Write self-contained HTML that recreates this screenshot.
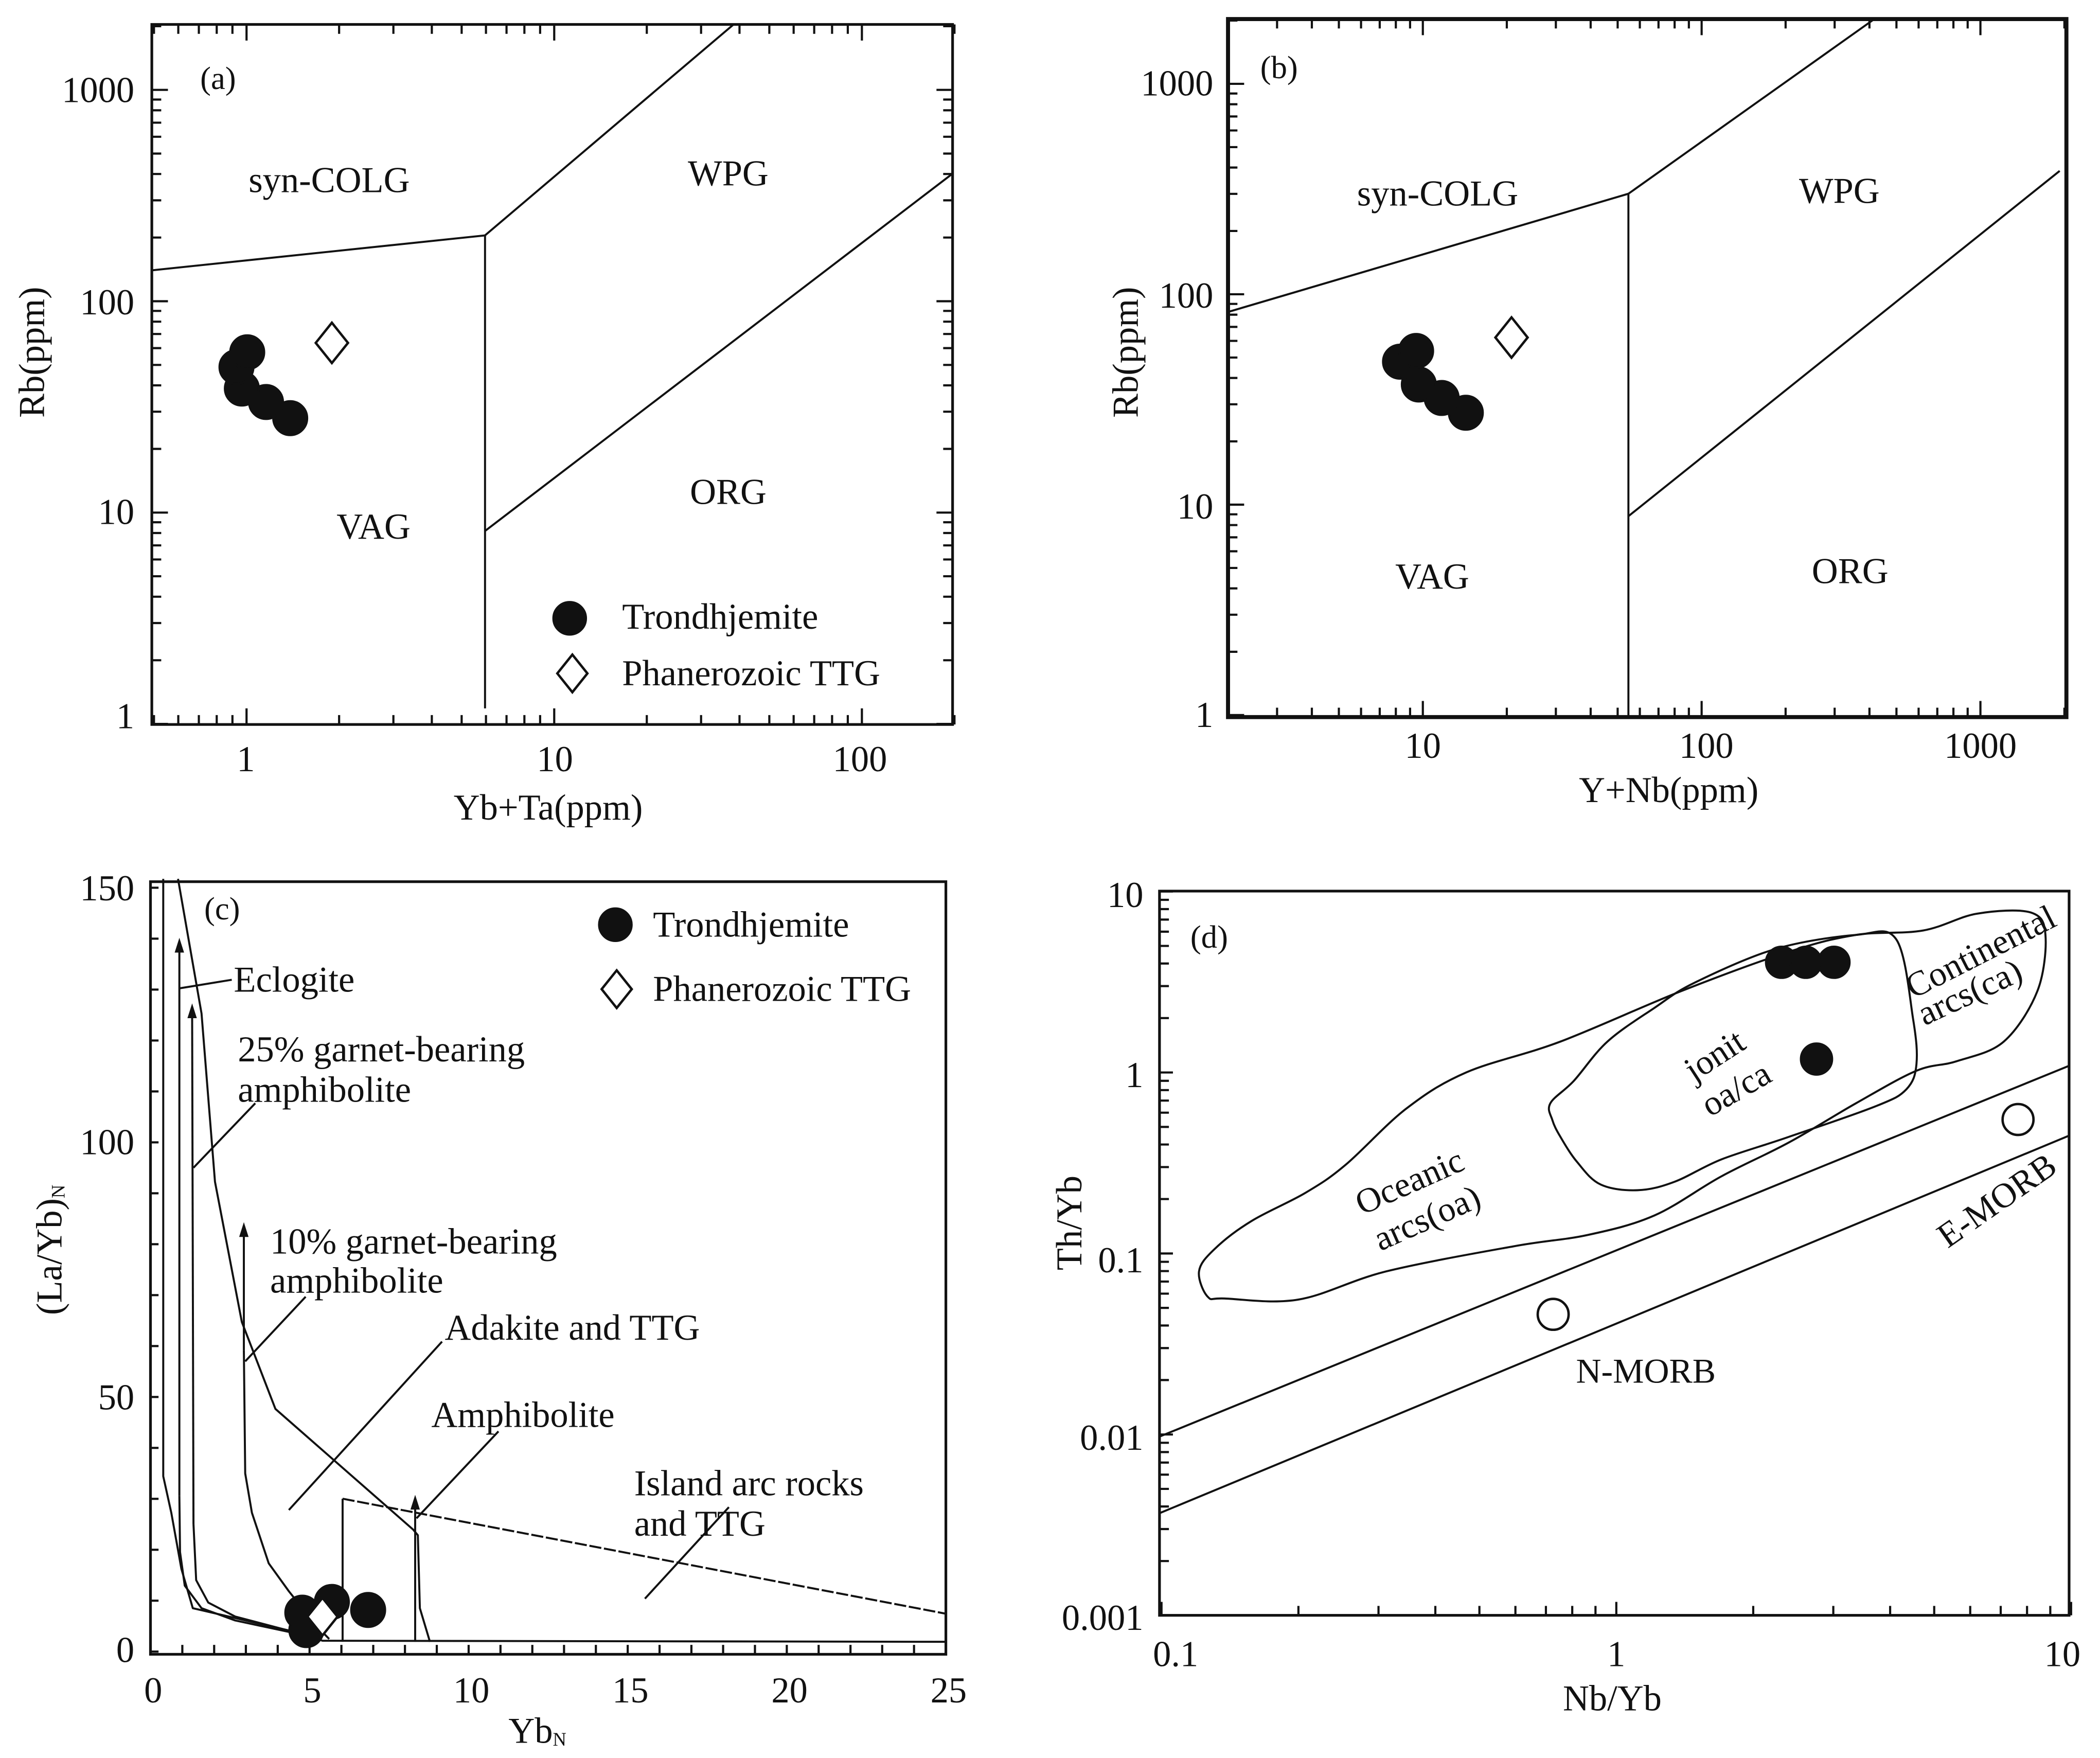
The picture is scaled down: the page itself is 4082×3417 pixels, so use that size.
<!DOCTYPE html>
<html><head><meta charset="utf-8"><style>
html,body{margin:0;padding:0;background:#fff}
svg{display:block}
text{font-family:"Liberation Serif",serif;fill:#111}
</style></head><body>
<svg id="s" xmlns="http://www.w3.org/2000/svg" width="4082" height="3417" viewBox="0 0 1563 1308"></svg>
<script>
const S=[];const L10=Math.log10;
function L(x1,y1,x2,y2,w){S.push(`<line x1="${x1.toFixed(1)}" y1="${y1.toFixed(1)}" x2="${x2.toFixed(1)}" y2="${y2.toFixed(1)}" stroke="#111" stroke-width="${w||1.5}"/>`)}
function T(x,y,s,a,fs,rot){a=a||'start';fs=fs||27;let tr=rot?` transform="rotate(${rot} ${x} ${y})"`:'';S.push(`<text x="${x}" y="${y}" font-size="${fs}" text-anchor="${a}" dominant-baseline="central"${tr}>${s}</text>`)}
function R(x1,y1,x2,y2,w){S.push(`<rect x="${x1}" y="${y1}" width="${x2-x1}" height="${y2-y1}" fill="none" stroke="#111" stroke-width="${w||2}"/>`)}
function C(x,y,r,fill){S.push(`<circle cx="${x}" cy="${y}" r="${r}" fill="${fill?'#111':'#fff'}" stroke="#111" stroke-width="1.8"/>`)}
function D(x,y,h){S.push(`<polygon points="${x},${y-h} ${x+h*0.8},${y} ${x},${y+h} ${x-h*0.8},${y}" fill="#fff" stroke="#111" stroke-width="1.8"/>`)}
function PL(pts,f,extra,close){let d=pts.map((p,i)=>{let q=f(p[0],p[1]);return (i?'L':'M')+q[0].toFixed(1)+','+q[1].toFixed(1)}).join(' ');S.push(`<path d="${d}${close?'Z':''}" fill="none" stroke="#111" stroke-width="1.5" stroke-linejoin="round" ${extra||''}/>`)}
function SM(pts,f){let p=pts.map(a=>f(a[0],a[1]));let n=p.length;let d='M'+p[0][0].toFixed(1)+','+p[0][1].toFixed(1);for(let i=0;i<n;i++){let p0=p[(i-1+n)%n],p1=p[i],p2=p[(i+1)%n],p3=p[(i+2)%n];let c1=[p1[0]+(p2[0]-p0[0])/6,p1[1]+(p2[1]-p0[1])/6],c2=[p2[0]-(p3[0]-p1[0])/6,p2[1]-(p3[1]-p1[1])/6];d+=`C${c1[0].toFixed(1)},${c1[1].toFixed(1)} ${c2[0].toFixed(1)},${c2[1].toFixed(1)} ${p2[0].toFixed(1)},${p2[1].toFixed(1)}`}S.push(`<path d="${d}Z" fill="none" stroke="#111" stroke-width="1.5"/>`)}
function ARW(x,y){S.push(`<polygon points="${x},${y} ${x-3.5},${y+11} ${x+3.5},${y+11}" fill="#111"/>`)}
function logT(a,b){let r=[];for(let e=-4;e<5;e++)for(let m=1;m<10;m++){let v=m*Math.pow(10,e);if(v>=a*0.999&&v<=b*1.001)r.push([v,m==1])}return r}

/* ---------- (a) ---------- */
{const ax=v=>183.5+229*L10(v),ay=v=>538.6-157.3*L10(v);
R(113,18,709,539,2);
for(const [v,M] of logT(0.5,200)){let x=ax(v),l=M?12:7;L(x,539,x,539-l,1.6);L(x,18,x,18+l,1.6)}
for(const [v,M] of logT(1,2000)){let y=ay(v),l=M?12:7;L(113,y,113+l,y,1.6);L(709,y,709-l,y,1.6)}
L(113,201,361,175);L(361,175,361,527);L(361,175,546,18);L(361,395,709,129);
T(149,58,'(a)','start',24);T(245,134,'syn-COLG','middle');T(542,129,'WPG','middle');T(278,392,'VAG','middle');T(542,366,'ORG','middle');
C(424,460,12,1);T(463,459,'Trondhjemite');D(426,501,14);T(463,501,'Phanerozoic TTG');
T(100,67,'1000','end');T(100,225,'100','end');T(100,381,'10','end');T(100,533,'1','end');
T(183,565,'1','middle');T(413,565,'10','middle');T(640,565,'100','middle');
T(408,601,'Yb+Ta(ppm)','middle');T(24,262,'Rb(ppm)','middle',27,-90);
for(const p of [[216,311],[198,299],[180,289],[176,273],[184,262]])C(p[0],p[1],12.5,1);
D(247,255,15);}

/* ---------- (b) ---------- */
{const bx=v=>1059+207.5*(L10(v)-1),by=v=>532-156.6*L10(v);
R(914,14,1538,533.5,3);
for(const [v,M] of logT(2,2000)){let x=bx(v),l=M?12:7;if(x<915||x>1537)continue;L(x,533.5,x,533.5-l,1.6);L(x,14,x,14+l,1.6)}
for(const [v,M] of logT(1,2000)){let y=by(v),l=M?12:7;if(y<15)continue;L(914,y,914+l,y,1.6)}
L(914,232,1212,144);L(1212,144,1212,533);L(1212,144,1395,14);L(1212,384,1533,127);
T(938,50,'(b)','start',24);T(1070,144,'syn-COLG','middle');T(1369,142,'WPG','middle');T(1066,429,'VAG','middle');T(1377,425,'ORG','middle');
T(903,62,'1000','end');T(903,220,'100','end');T(903,377,'10','end');T(903,532,'1','end');
T(1059,555,'10','middle');T(1270,555,'100','middle');T(1474,555,'1000','middle');
T(1242,588,'Y+Nb(ppm)','middle');T(838,262,'Rb(ppm)','middle',27,-90);
for(const p of [[1091,307],[1073,296],[1056,286],[1042,269],[1054,261]])C(p[0],p[1],12.5,1);
D(1125,251,15);}

/* ---------- (c) ---------- */
{const f=(x,y)=>[x*0.5,653.9+y*0.4175];const cx=v=>112+23.68*v,cy=v=>1229-3.79*v;
R(112,656,704,1231,2);
for(let v=0;v<=150;v+=10){let y=cy(v);L(112,y,118,y,1.6)}
for(let v=0;v<=25;v++){let x=cx(v);L(x,1231,x,1224,1.6)}
PL([[243,0],[243,1065],[255,1130],[270,1230],[287,1300],[430,1340],[480,1358],[1408,1360]],f);
PL([[267,1100],[267,120]],f);PL([[267,1100],[268,1200],[275,1260],[300,1300],[350,1322],[440,1345]],f);
PL([[288,1150],[286,240]],f);PL([[288,1150],[292,1250],[310,1290],[350,1315],[445,1345]],f);
PL([[363,840],[363,630]],f);PL([[363,840],[365,1060],[375,1130],[400,1220],[430,1270],[470,1330],[490,1355]],f);
PL([[265,0],[300,240],[320,540],[360,790],[410,945],[615,1160],[622,1170],[625,1300],[640,1360]],f);
PL([[618,1360],[618,1115]],f);
PL([[510,1360],[510,1105]],f);PL([[510,1105],[1408,1310]],f,'stroke-dasharray="9,2"');
let a;a=f(267,105);ARW(a[0],a[1]);a=f(286,222);ARW(a[0],a[1]);a=f(363,612);ARW(a[0],a[1]);a=f(618,1098);ARW(a[0],a[1]);
PL([[268,195],[345,180]],f);PL([[288,515],[380,400]],f);PL([[365,860],[455,745]],f);PL([[430,1125],[658,825]],f);PL([[620,1140],[742,985]],f);PL([[960,1283],[1085,1120]],f);
T(152,676,'(c)','start',24);
T(174,729,'Eclogite');T(177,781,'25% garnet-bearing');T(177,811,'amphibolite');
T(201,924,'10% garnet-bearing');T(201,953,'amphibolite');T(331,988,'Adakite and TTG');T(321,1053,'Amphibolite');
T(472,1104,'Island arc rocks');T(472,1134,'and TTG');
C(458,688,12,1);T(486,688,'Trondhjemite');D(459,736,14);T(486,736,'Phanerozoic TTG');
T(100,661,'150','end');T(100,850,'100','end');T(100,1040,'50','end');T(100,1228,'0','end');
[0,5,10,15,20,25].forEach(v=>T(cx(v)+2,1258,''+v,'middle'));
T(400,1288,'Yb<tspan font-size="14" dy="6">N</tspan>','middle');
T(37,930,'(La/Yb)<tspan font-size="14" dy="6">N</tspan>','middle',27,-90);
for(const p of [[225,1200],[228,1213],[247,1192],[274,1198]])C(p[0],p[1],12.5,1);
D(240,1203,14);}

/* ---------- (d) ---------- */
{const f=(x,y)=>[781.4+x*0.5,653.9+y*0.4175];const dx=v=>1203+338.5*L10(v),dy=v=>798-134.7*L10(v);
R(863,663,1540,1202,2);
for(const [v,M] of logT(0.1,10)){let x=dx(v),l=M?10:7;L(x,1202,x,1202-l,1.6)}
for(const [v,M] of logT(0.001,10)){let y=dy(v),l=M?10:7;L(863,y,863+l,y,1.6)}
L(863,1069,1540,793);L(863,1126,1540,845);
SM([[235,745],[222,700],[245,660],[300,610],[380,560],[440,510],[530,410],[620,345],[760,290],[940,200],[1100,130],[1200,100],[1300,92],[1380,62],[1460,60],[1482,100],[1470,200],[1420,290],[1350,325],[1290,342],[1200,400],[1100,470],[1000,530],[900,600],[800,635],[690,655],[500,700],[370,750],[260,748]],f);
SM([[748,430],[745,400],[780,360],[830,290],[900,230],[960,185],[1080,125],[1200,100],[1260,108],[1285,250],[1290,330],[1275,375],[1230,405],[1100,460],[1000,500],[930,540],[875,555],[820,545],[785,505],[760,460]],f);
T(886,697,'(d)','start',24);
T(1049,879,'Oceanic','middle',26,-24);T(1062,906,'arcs(oa)','middle',26,-24);
T(1276,785,'jonit','middle',26,-33);T(1292,810,'oa/ca','middle',26,-30);
T(1474,708,'Continental','middle',26,-27);T(1466,738,'arcs(ca)','middle',26,-25);
T(1225,1020,'N-MORB','middle',26);T(1486,893,'E-MORB','middle',26,-35);
for(const p of [[1326,716],[1344,716],[1365,716],[1352,788]])C(p[0],p[1],11.5,1);
C(1156,978,11.5,0);C(1502,833,11.5,0);
T(851,666,'10','end');T(851,800,'1','end');T(851,938,'0.1','end');T(851,1070,'0.01','end');T(851,1204,'0.001','end');
T(875,1231,'0.1','middle');T(1203,1231,'1','middle');T(1535,1231,'10','middle');
T(1200,1264,'Nb/Yb','middle');T(796,910,'Th/Yb','middle',27,-90);}
document.getElementById('s').innerHTML=S.join('');
</script>
</body></html>
